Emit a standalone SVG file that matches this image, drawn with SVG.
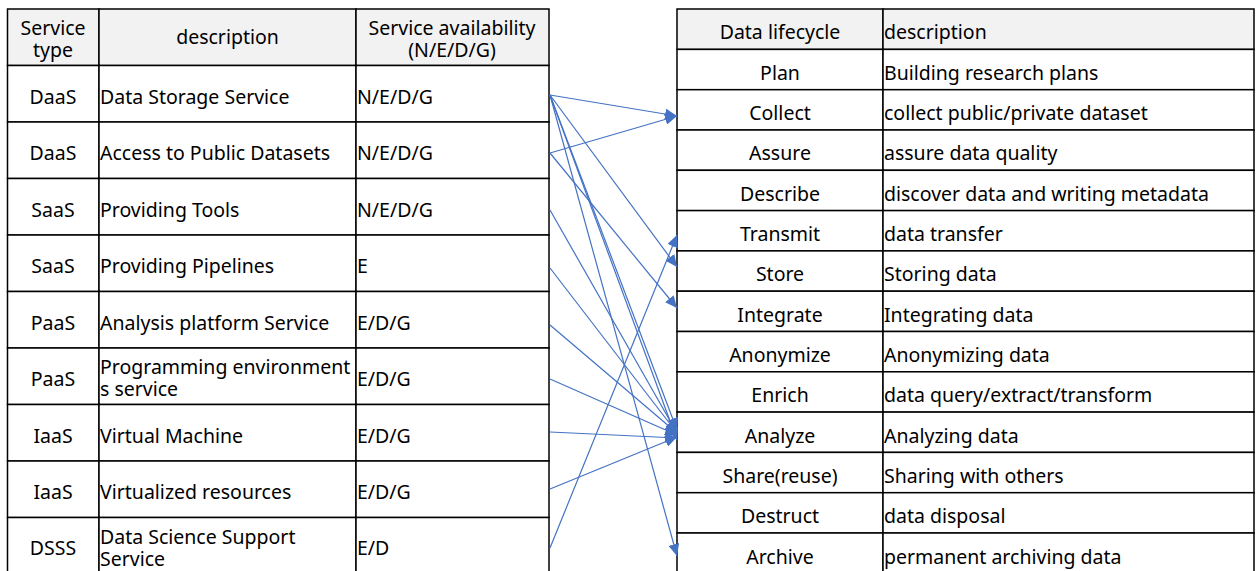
<svg xmlns="http://www.w3.org/2000/svg" width="1256" height="571" viewBox="0 0 1256 571">
<style>
  .cell{fill:#ffffff;stroke:#000000;stroke-width:1.5}
  .hdr{fill:#f2f2f2;stroke:#000000;stroke-width:1.5}
  text{font-family:"Noto Sans","Open Sans","Liberation Sans",sans-serif;font-size:19.5px;fill:#000000}
  .c{text-anchor:middle}
  .conn{stroke:#4472C4;stroke-width:1.2;fill:none;marker-end:url(#arr)}
</style>
<defs>
  <marker id="arr" markerUnits="userSpaceOnUse" markerWidth="12" markerHeight="11" refX="12" refY="5.5" orient="auto">
    <path d="M0,0 L12,5.5 L0,11 z" fill="#4472C4"/>
  </marker>
</defs>
<rect width="1256" height="571" fill="#ffffff"/>

<!-- Left table -->
<g id="svc-header">
  <rect class="hdr" x="7.5" y="9" width="91.5" height="56.5"/>
  <rect class="hdr" x="99" y="9" width="257" height="56.5"/>
  <rect class="hdr" x="356" y="9" width="193" height="56.5"/>
  <text class="c" x="53" y="35">Service<tspan x="53" dy="22">type</tspan></text>
  <text class="c" x="227.5" y="44">description</text>
  <text class="c" x="452" y="35">Service availability<tspan x="452" dy="22">(N/E/D/G)</tspan></text>
</g>
<g id="svc-1">
  <rect class="cell" x="7.5" y="65.5" width="91.5" height="56.5"/><rect class="cell" x="99" y="65.5" width="257" height="56.5"/><rect class="cell" x="356" y="65.5" width="193" height="56.5"/>
  <text class="c" x="53" y="103.5">DaaS</text><text x="100" y="103.5">Data Storage Service</text><text x="357" y="103.5">N/E/D/G</text>
</g>
<g id="svc-2">
  <rect class="cell" x="7.5" y="122" width="91.5" height="56.5"/><rect class="cell" x="99" y="122" width="257" height="56.5"/><rect class="cell" x="356" y="122" width="193" height="56.5"/>
  <text class="c" x="53" y="160">DaaS</text><text x="100" y="160">Access to Public Datasets</text><text x="357" y="160">N/E/D/G</text>
</g>
<g id="svc-3">
  <rect class="cell" x="7.5" y="178.5" width="91.5" height="56.5"/><rect class="cell" x="99" y="178.5" width="257" height="56.5"/><rect class="cell" x="356" y="178.5" width="193" height="56.5"/>
  <text class="c" x="53" y="216.5">SaaS</text><text x="100" y="216.5">Providing Tools</text><text x="357" y="216.5">N/E/D/G</text>
</g>
<g id="svc-4">
  <rect class="cell" x="7.5" y="235" width="91.5" height="56.5"/><rect class="cell" x="99" y="235" width="257" height="56.5"/><rect class="cell" x="356" y="235" width="193" height="56.5"/>
  <text class="c" x="53" y="273">SaaS</text><text x="100" y="273">Providing Pipelines</text><text x="357" y="273">E</text>
</g>
<g id="svc-5">
  <rect class="cell" x="7.5" y="291.5" width="91.5" height="56.5"/><rect class="cell" x="99" y="291.5" width="257" height="56.5"/><rect class="cell" x="356" y="291.5" width="193" height="56.5"/>
  <text class="c" x="53" y="329.5">PaaS</text><text x="100" y="329.5">Analysis platform Service</text><text x="357" y="329.5">E/D/G</text>
</g>
<g id="svc-6">
  <rect class="cell" x="7.5" y="348" width="91.5" height="56.5"/><rect class="cell" x="99" y="348" width="257" height="56.5"/><rect class="cell" x="356" y="348" width="193" height="56.5"/>
  <text class="c" x="53" y="386">PaaS</text><text x="100" y="374">Programming environment<tspan x="100" dy="22">s service</tspan></text><text x="357" y="386">E/D/G</text>
</g>
<g id="svc-7">
  <rect class="cell" x="7.5" y="404.5" width="91.5" height="56.5"/><rect class="cell" x="99" y="404.5" width="257" height="56.5"/><rect class="cell" x="356" y="404.5" width="193" height="56.5"/>
  <text class="c" x="53" y="442.5">IaaS</text><text x="100" y="442.5">Virtual Machine</text><text x="357" y="442.5">E/D/G</text>
</g>
<g id="svc-8">
  <rect class="cell" x="7.5" y="461" width="91.5" height="56.5"/><rect class="cell" x="99" y="461" width="257" height="56.5"/><rect class="cell" x="356" y="461" width="193" height="56.5"/>
  <text class="c" x="53" y="499">IaaS</text><text x="100" y="499">Virtualized resources</text><text x="357" y="499">E/D/G</text>
</g>
<g id="svc-9">
  <rect class="cell" x="7.5" y="517.5" width="91.5" height="56.5"/><rect class="cell" x="99" y="517.5" width="257" height="56.5"/><rect class="cell" x="356" y="517.5" width="193" height="56.5"/>
  <text class="c" x="53" y="555">DSSS</text><text x="100" y="544">Data Science Support<tspan x="100" dy="22">Service</tspan></text><text x="357" y="555">E/D</text>
</g>

<!-- Right table -->
<g id="dlc-header">
  <rect class="hdr" x="677" y="9" width="206" height="40.4"/><rect class="hdr" x="883" y="9" width="371" height="40.4"/>
  <text class="c" x="780" y="38.5">Data lifecycle</text><text x="884" y="38.5">description</text>
</g>
<g id="dlc-plan">
  <rect class="cell" x="677" y="49.4" width="206" height="40.3"/><rect class="cell" x="883" y="49.4" width="371" height="40.3"/>
  <text class="c" x="780" y="79.5">Plan</text><text x="884" y="79.5">Building research plans</text>
</g>
<g id="dlc-collect">
  <rect class="cell" x="677" y="89.7" width="206" height="40.3"/><rect class="cell" x="883" y="89.7" width="371" height="40.3"/>
  <text class="c" x="780" y="119.5">Collect</text><text x="884" y="119.5">collect public/private dataset</text>
</g>
<g id="dlc-assure">
  <rect class="cell" x="677" y="130" width="206" height="40.3"/><rect class="cell" x="883" y="130" width="371" height="40.3"/>
  <text class="c" x="780" y="160">Assure</text><text x="884" y="160">assure data quality</text>
</g>
<g id="dlc-describe">
  <rect class="cell" x="677" y="170.3" width="206" height="40.3"/><rect class="cell" x="883" y="170.3" width="371" height="40.3"/>
  <text class="c" x="780" y="200.5">Describe</text><text x="884" y="200.5">discover data and writing metadata</text>
</g>
<g id="dlc-transmit">
  <rect class="cell" x="677" y="210.6" width="206" height="40.3"/><rect class="cell" x="883" y="210.6" width="371" height="40.3"/>
  <text class="c" x="780" y="241">Transmit</text><text x="884" y="241">data transfer</text>
</g>
<g id="dlc-store">
  <rect class="cell" x="677" y="250.9" width="206" height="40.3"/><rect class="cell" x="883" y="250.9" width="371" height="40.3"/>
  <text class="c" x="780" y="281">Store</text><text x="884" y="281">Storing data</text>
</g>
<g id="dlc-integrate">
  <rect class="cell" x="677" y="291.2" width="206" height="40.3"/><rect class="cell" x="883" y="291.2" width="371" height="40.3"/>
  <text class="c" x="780" y="321.5">Integrate</text><text x="884" y="321.5">Integrating data</text>
</g>
<g id="dlc-anonymize">
  <rect class="cell" x="677" y="331.5" width="206" height="40.3"/><rect class="cell" x="883" y="331.5" width="371" height="40.3"/>
  <text class="c" x="780" y="362">Anonymize</text><text x="884" y="362">Anonymizing data</text>
</g>
<g id="dlc-enrich">
  <rect class="cell" x="677" y="371.8" width="206" height="40.3"/><rect class="cell" x="883" y="371.8" width="371" height="40.3"/>
  <text class="c" x="780" y="402">Enrich</text><text x="884" y="402">data query/extract/transform</text>
</g>
<g id="dlc-analyze">
  <rect class="cell" x="677" y="412.1" width="206" height="40.3"/><rect class="cell" x="883" y="412.1" width="371" height="40.3"/>
  <text class="c" x="780" y="442.5">Analyze</text><text x="884" y="442.5">Analyzing data</text>
</g>
<g id="dlc-share">
  <rect class="cell" x="677" y="452.4" width="206" height="40.3"/><rect class="cell" x="883" y="452.4" width="371" height="40.3"/>
  <text class="c" x="780" y="483">Share(reuse)</text><text x="884" y="483">Sharing with others</text>
</g>
<g id="dlc-destruct">
  <rect class="cell" x="677" y="492.7" width="206" height="40.3"/><rect class="cell" x="883" y="492.7" width="371" height="40.3"/>
  <text class="c" x="780" y="523">Destruct</text><text x="884" y="523">data disposal</text>
</g>
<g id="dlc-archive">
  <rect class="cell" x="677" y="533" width="206" height="40.3"/><rect class="cell" x="883" y="533" width="371" height="40.3"/>
  <text class="c" x="780" y="563.5">Archive</text><text x="884" y="563.5">permanent archiving data</text>
</g>

<!-- Connectors -->
<g id="connectors">
  <line class="conn" x1="550" y1="95" x2="677" y2="116"/>
  <line class="conn" x1="550" y1="153" x2="677" y2="116"/>
  <line class="conn" x1="550" y1="95" x2="677" y2="267"/>
  <line class="conn" x1="550" y1="153" x2="677" y2="308"/>
  <line class="conn" x1="550" y1="95" x2="677" y2="430"/>
  <line class="conn" x1="550" y1="95" x2="677" y2="440"/>
  <line class="conn" x1="550" y1="95" x2="677" y2="556"/>
  <line class="conn" x1="550" y1="210" x2="677" y2="433"/>
  <line class="conn" x1="550" y1="268" x2="677" y2="433"/>
  <line class="conn" x1="550" y1="325" x2="677" y2="433"/>
  <line class="conn" x1="550" y1="379" x2="677" y2="435"/>
  <line class="conn" x1="550" y1="432" x2="677" y2="438"/>
  <line class="conn" x1="550" y1="489" x2="677" y2="437"/>
  <line class="conn" x1="550" y1="548" x2="677" y2="235"/>
</g>
</svg>
